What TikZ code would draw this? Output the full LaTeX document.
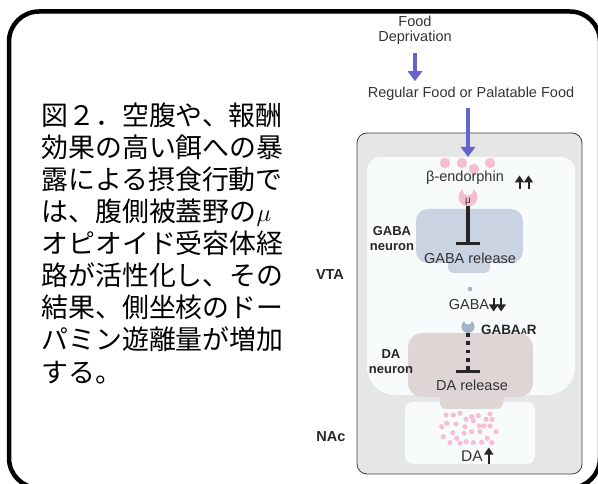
\documentclass[tikz,border=0pt]{standalone}
\usepackage{fontspec}
\setmainfont{Liberation Sans}
\newfontfamily\jpfont{Noto Sans CJK JP}
\usetikzlibrary{arrows.meta}

\begin{document}
\begin{tikzpicture}[x=1pt, y=-1pt,
    %Option for nice arrows
    >={Triangle[length=7pt,width=9pt]}, %
    inner sep=0pt, outer sep=0pt,%
    label/.style={font=\fontsize{14.5}{15.5}\selectfont, text=black!80, align=center},
    region/.style={font=\bfseries\fontsize{14.5}{15.5}\selectfont, text=black!85, align=center},
    feed/.style={color=feedblue, line width=4pt, -{Triangle[length=10pt,width=14pt]}},
    inhibit/.style={line width=3.5pt, color=black!85, -{Bar[width=24pt,line width=3pt]}},
    dashinhibit/.style={inhibit, dash pattern=on 3.8pt off 4.5pt},
    updown/.style={line width=2pt, color=black!85, ->},
    receptor/.style={circle, fill=#1, minimum size=19pt},
    pdot/.style={fill=pinkdot},
]
    % Colors
    \definecolor{feedblue}{RGB}{100,100,205}
    \definecolor{pinkdot}{RGB}{246,190,210}
    \definecolor{panelgray}{RGB}{230,230,230}
    \definecolor{vtafill}{RGB}{247,251,252}
    \definecolor{gabafill}{RGB}{201,211,226}
    \definecolor{dafill}{RGB}{224,213,213}
    \definecolor{gabaablue}{RGB}{166,178,204}

    \useasboundingbox (0,0) rectangle (598,484);
    \clip (0,0) rectangle (598,484);

    % Frame
    \draw[line width=4.5pt, rounded corners=30pt] (9,11.5) rectangle (600,488);

    % Caption (base anchor sits on the last line)
    \node[font=\jpfont\fontsize{26.9}{32.1}\selectfont, align=left, anchor=base west] (caption) at (41.5,382)
        {図２．空腹や、報酬\\効果の高い餌への暴\\露による摂食行動で\\は、腹側被蓋野の$\mu$\\オピオイド受容体経\\路が活性化し、その\\結果、側坐核のドー\\パミン遊離量が増加\\する。};

    % Food input
    \node[label] (fooddep) at (415,30.5) {Food\\Deprivation};
    \node[label] (food) at (471,94) {Regular Food or Palatable Food};
    \draw[feed] ([yshift=-8pt]fooddep.south) -- ([yshift=6pt]fooddep.south |- food.north);

    % Brain panel
    \fill[panelgray, draw=black!75, line width=0.8pt, rounded corners=10pt] (357,133) rectangle (582,474);
    \fill[vtafill, rounded corners=14pt] (367,157) rectangle (575,300);
    \fill[vtafill, rounded corners=28pt] (367,200) rectangle (575,395);
    \fill[vtafill, rounded corners=8pt] (405,402) rectangle (535,464);
    \coordinate (vtatop) at (468,157);
    \draw[feed] ([yshift=-7pt]food.south -| vtatop) -- (vtatop);

    \node[region] (vta) at (330,275) {VTA};
    \node[region] (nac) at (331,437) {NAc};

    % GABA neuron
    \fill[gabafill, rounded corners=12pt] (416,209) rectangle (523,263);
    \fill[gabafill, rounded corners=5pt] (448,250) rectangle (490,273);
    \node[region, font=\bfseries\fontsize{13}{15}\selectfont] (gabaneuron) at (392,239) {GABA\\neuron};

    % beta-endorphin
    \foreach \p in {(445,163),(462,163),(474,169),(490,163)}
        \fill[pdot] \p circle (5.2pt);
    \node[label] (bend) at (465,178) {β-endorphin};
    \foreach \x in {519.5,528.5}
        \draw[updown] (\x,189) -- (\x,175.5);

    % mu receptor
    \node[receptor=pinkdot] (mur) at (468,197) {};
    \fill[vtafill] (468,190) circle (5.3pt);
    \node[font=\fontsize{10}{10}\selectfont, text=black!80] (mu) at (468,202) {μ};
    \node[label] (gabarel) at (470,258) {GABA release};
    \coordinate (gababar) at (468,245);
    \draw[inhibit] (mur.south) -- (gababar);

    % GABA
    \fill[gabaablue] (470,289) circle (2.3pt);
    \node[label] (gaba) at (469,305) {GABA};
    \foreach \x in {4.5,12}
        \draw[updown] ([xshift=\x pt]gaba.east |- 0,298) -- ([xshift=\x pt]gaba.east |- 0,311.5);

    % DA neuron
    \fill[dafill, rounded corners=14pt] (408,333) rectangle (533,397);
    \fill[dafill, rounded corners=6pt] (440,385) rectangle (503,409);
    \node[region, font=\bfseries\fontsize{13}{15}\selectfont] (daneuron) at (391,362) {DA\\neuron};

    % GABA_A receptor
    \node[receptor=gabaablue, minimum size=13pt] (gabaar) at (468,326.5) {};
    \fill[vtafill] (468,320.5) circle (4pt);
    \node[region, font=\bfseries\fontsize{13.5}{15}\selectfont, anchor=west] (gabaarlab) at (481,330)
        {GABA{\fontsize{8.5}{9}\selectfont A}R};
    \node[label] (darel) at (472,385) {DA release};
    \coordinate (dabar) at (468,373);
    \draw[dashinhibit] (gabaar.south) -- (dabar);

    % Dopamine in NAc
    \foreach \p in {(446,415),(453.3,415),(460,413.3),(471.7,416.7),(478.3,415.7),(490,414),
                    (466,419.3),(486,419.3),(492,419.3),(446.7,423.3),(456,424),(465,426.7),
                    (473.3,420.7),(479.3,426),(484,426),(490,426),(496,431.7),(441.7,426.7),
                    (452.7,432.7),(464,433.3),(471.7,431.7),(480,431.7),(443.3,436.7),(456.7,438.3),
                    (487.3,438.3),(466,441.7),(473.3,442.7),(481.7,442.3),(460,443.3),(450,442.7),
                    (491.7,442.7)}
        \fill[pdot] \p circle (2.6pt);
    \node[label, font=\fontsize{15.5}{16}\selectfont] (da) at (472,456) {DA};
    \draw[updown] ([xshift=6pt]da.east |- 0,463.5) -- ([xshift=6pt]da.east |- 0,447.5);
\end{tikzpicture}
\end{document}
